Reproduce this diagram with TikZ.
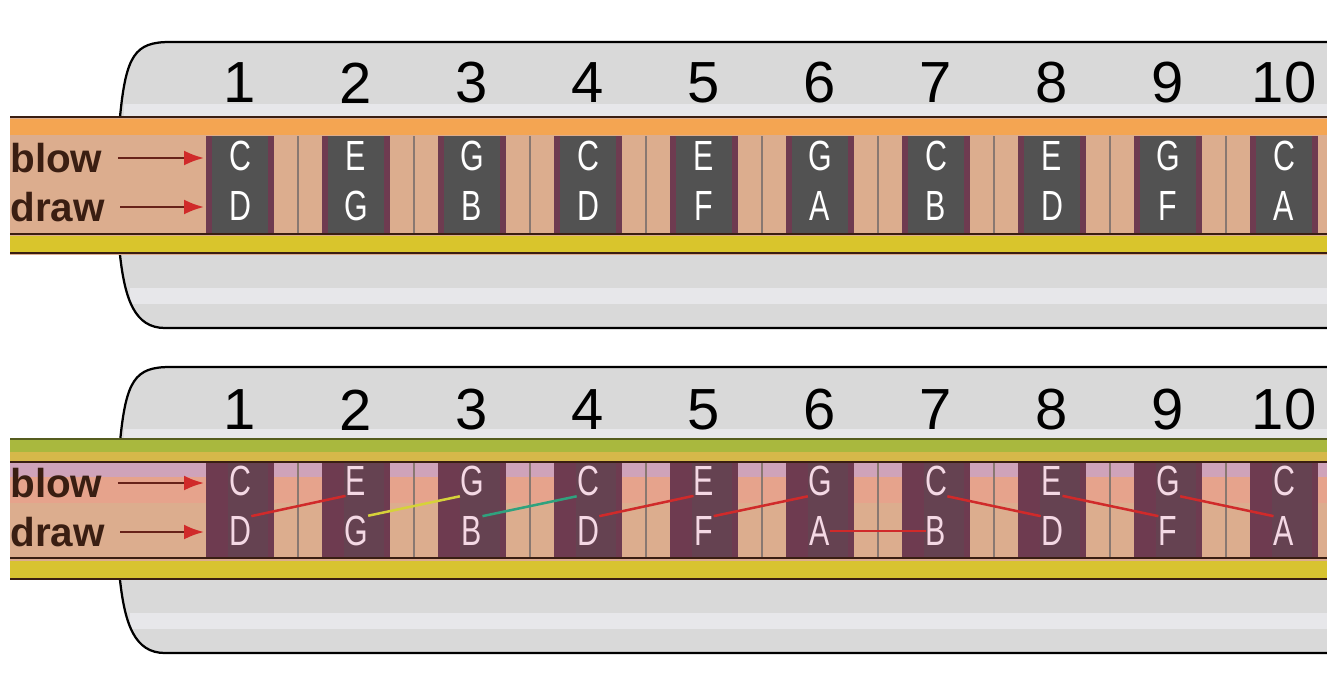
\documentclass[tikz,border=0pt]{standalone}
\usepackage{fontspec}
\setmainfont{Liberation Sans}
\usepackage{tikz}
\usetikzlibrary{arrows.meta}
\definecolor{hpGrey}{HTML}{D9D9D9}
\definecolor{hpLight}{HTML}{E7E7EA}
\definecolor{hpTan}{HTML}{DCAD8E}
\definecolor{hpSalmon}{HTML}{E6A38C}
\definecolor{hpOrange}{HTML}{F4A552}
\definecolor{hpYellow}{HTML}{D9C52C}
\definecolor{hpOlive}{HTML}{A9B83E}
\definecolor{hpGold}{HTML}{D6B84A}
\definecolor{hpHole}{HTML}{525252}
\definecolor{hpMaroon}{HTML}{6E3B50}
\definecolor{hpEdge}{HTML}{3A1E12}
\definecolor{hpRed}{HTML}{D02A2A}
\definecolor{hpPink}{HTML}{CFA3BA}
\definecolor{hpNote}{HTML}{F4D8E4}
\definecolor{hpTeal}{HTML}{2FA27E}
\definecolor{hpLemon}{HTML}{D6D23A}
\newcommand\nt[1]{\scalebox{0.72}[1]{#1}}

\begin{document}
\begin{tikzpicture}[x=0.2mm,y=-0.2mm,
  num/.style={font=\fontsize{33}{33}\selectfont,text=black,inner sep=0pt},
  note/.style={font=\fontsize{24}{24}\selectfont,text=white,inner sep=0pt},
  lab/.style={font=\fontsize{23}{23}\selectfont\bfseries,text=hpEdge,inner sep=0pt,anchor=west},
  arr/.style={-{Latex[length=4mm,width=3mm,color=hpRed]},draw=hpEdge!70!hpRed,line width=0.5mm},
  cover/.style={draw=black,line width=0.45mm},
  edge/.style={draw=hpEdge,line width=0.5mm},
  ln/.style={line width=0.5mm,draw=hpRed}]
\useasboundingbox (0,0) rectangle (1327,675);
\clip (0,0) rectangle (1327,675);

% upper harmonica
\fill[hpGrey] (120,117) .. controls (126,55) and (135,42) .. (170,42) -- (1330,42) -- (1330,117) -- cycle;
\fill[hpLight] (124,104) rectangle (1330,116);
\fill[hpGrey] (120,255) .. controls (125,300) and (135,328) .. (165,328) -- (1330,328) -- (1330,255) -- cycle;
\fill[hpLight] (130,288) rectangle (1330,304);
\draw[cover] (120,117) .. controls (126,55) and (135,42) .. (170,42) -- (1330,42);
\draw[cover] (120,255) .. controls (125,300) and (135,328) .. (165,328) -- (1330,328);
\fill[hpTan] (10,117) rectangle (1330,255);
\fill[hpOrange] (10,119) rectangle (1330,135);
\fill[hpYellow] (10,236) rectangle (1330,252);
\draw[edge] (10,117) -- (1330,117) (10,234) -- (1330,234) (10,253) -- (1330,253);
\foreach \i/\b/\d in {1/C/D,2/E/G,3/G/B,4/C/D,5/E/F,6/G/A,7/C/B,8/E/D,9/G/F,10/C/A} {
  \pgfmathsetmacro\hx{240+116*(\i-1)}
  \fill[hpMaroon] (\hx-34,136) rectangle (\hx+34,233);
  \fill[hpHole] (\hx-28,136) rectangle (\hx+28,233);
  \draw[hpEdge!60,line width=0.3mm] (\hx+58,136) -- (\hx+58,233);
  \node[num] (tn\i) at (\hx,83) {\i};
  \node[note] (tb\i) at (\hx,156) {\nt{\b}};
  \node[note] (td\i) at (\hx,206) {\nt{\d}};
}
\node[lab] (tblow) at (10,158) {blow};
\node[lab] (tdraw) at (10,207) {draw};
\coordinate (tbh) at (204,158);
\coordinate (tdh) at (204,207);
\draw[arr,shorten <=3mm] (tblow.east) -- (tbh);
\draw[arr,shorten <=3mm] (tdraw.east) -- (tdh);

% lower harmonica
\begin{scope}[yshift=-65mm]
\fill[hpGrey] (120,117) .. controls (126,55) and (135,42) .. (170,42) -- (1330,42) -- (1330,117) -- cycle;
\fill[hpLight] (124,104) rectangle (1330,114);
\fill[hpGrey] (120,255) .. controls (125,300) and (135,328) .. (165,328) -- (1330,328) -- (1330,255) -- cycle;
\fill[hpLight] (130,288) rectangle (1330,304);
\draw[cover] (120,117) .. controls (126,55) and (135,42) .. (170,42) -- (1330,42);
\draw[cover] (120,255) .. controls (125,300) and (135,328) .. (165,328) -- (1330,328);
\fill[hpTan] (10,114) rectangle (1330,255);
\fill[hpPink] (10,138) rectangle (1330,152);
\fill[hpSalmon] (10,152) rectangle (1330,178);
\fill[hpOlive] (10,115) rectangle (1330,127);
\fill[hpGold] (10,127) rectangle (1330,137);
\fill[hpYellow!85!hpGold] (10,236) rectangle (1330,254);
\draw[draw=hpOlive!50!black,line width=0.5mm] (10,114) -- (1330,114);
\draw[edge] (10,137) -- (1330,137) (10,233) -- (1330,233) (10,254) -- (1330,254);
\foreach \i/\b/\d in {1/C/D,2/E/G,3/G/B,4/C/D,5/E/F,6/G/A,7/C/B,8/E/D,9/G/F,10/C/A} {
  \pgfmathsetmacro\hx{240+116*(\i-1)}
  \fill[hpMaroon] (\hx-34,138) rectangle (\hx+34,232);
  \fill[hpMaroon!70!hpHole] (\hx-12,138) rectangle (\hx+28,232);
  \draw[hpEdge!60,line width=0.3mm] (\hx+58,138) -- (\hx+58,232);
  \node[num] (bn\i) at (\hx,85) {\i};
  \node[note,text=hpNote] (bb\i) at (\hx,156) {\nt{\b}};
  \node[note,text=hpNote] (bd\i) at (\hx,206) {\nt{\d}};
}
\node[lab] (bblow) at (10,158) {blow};
\node[lab] (bdraw) at (10,207) {draw};
\coordinate (bbh) at (204,158);
\coordinate (bdh) at (204,207);
\draw[arr,shorten <=3mm] (bblow.east) -- (bbh);
\draw[arr,shorten <=3mm] (bdraw.east) -- (bdh);
% scale steps
\draw[ln] (bd1.north east) -- (bb2.south west);
\draw[ln,draw=hpLemon] (bd2.north east) -- (bb3.south west);
\draw[ln,draw=hpTeal] (bd3.north east) -- (bb4.south west);
\draw[ln] (bd4.north east) -- (bb5.south west);
\draw[ln] (bd5.north east) -- (bb6.south west);
\draw[ln] (bd6.east) -- (bd7.west);
\draw[ln] (bb7.south east) -- (bd8.north west);
\draw[ln] (bb8.south east) -- (bd9.north west);
\draw[ln] (bb9.south east) -- (bd10.north west);
\end{scope}
\end{tikzpicture}
\end{document}
